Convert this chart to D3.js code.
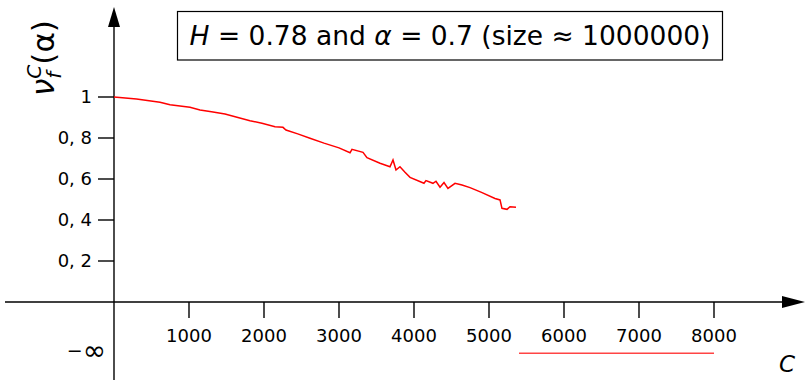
<!DOCTYPE html>
<html>
<head>
<meta charset="utf-8">
<script src="https://cdn.jsdelivr.net/npm/d3@7"></script>
<style>
  body { margin: 0; background: #fff; }
  text { font-family: "DejaVu Sans", sans-serif; }
</style>
</head>
<body>
<div id="chart"></div>
<script>
// values
const cValues = [0, 300, 613, 747, 1013, 1147, 1300, 1480, 1640, 1813, 1973, 2147, 2253, 2293,
  2450, 2613, 2800, 3000, 3147, 3173, 3320, 3373, 3547, 3680, 3720, 3760, 3813, 3880, 3947,
  4133, 4160, 4253, 4293, 4347, 4400, 4453, 4547, 4640, 4747, 4900, 5080, 5147, 5173, 5240, 5280, 5360];
const nuValues = [1.0, 0.99, 0.974, 0.962, 0.95, 0.937, 0.928, 0.917, 0.901, 0.884, 0.872, 0.855, 0.852, 0.839,
  0.82, 0.799, 0.775, 0.752, 0.728, 0.745, 0.73, 0.704, 0.677, 0.66, 0.693, 0.644, 0.66, 0.633, 0.608,
  0.579, 0.592, 0.579, 0.589, 0.56, 0.583, 0.554, 0.579, 0.571, 0.558, 0.535, 0.505, 0.498, 0.457, 0.452, 0.465, 0.462];
// range where the value is -infinity
const negInfC = [5400, 8000];
const xTicks = [1000, 2000, 3000, 4000, 5000, 6000, 7000, 8000];
const yTicks = [0.2, 0.4, 0.6, 0.8, 1];
const title = "(size ≈ 1000000)";

const width = 805, height = 380;
const svg = d3.select("#chart").append("svg")
    .attr("width", width).attr("height", height);

const x = d3.scaleLinear().domain([0, 1000]).range([114, 189]);
const y = d3.scaleLinear().domain([0, 1]).range([302, 97]);
const yNegInf = y(-0.25);

// axes lines
svg.append("line").attr("x1", 5).attr("x2", 785).attr("y1", y(0)).attr("y2", y(0))
    .attr("stroke", "#000").attr("stroke-width", 1.4);
svg.append("line").attr("x1", x(0)).attr("x2", x(0)).attr("y1", height).attr("y2", 25)
    .attr("stroke", "#000").attr("stroke-width", 1.4);
// arrow heads
svg.append("path").attr("d", `M${x(0)},7 L${x(0) - 6},27 L${x(0) + 6},27 Z`).attr("fill", "#000");
svg.append("path").attr("d", `M805,${y(0)} L782,${y(0) - 6} L782,${y(0) + 6} Z`).attr("fill", "#000");

// x ticks
const xt = svg.append("g").selectAll("g").data(xTicks).enter().append("g");
xt.append("line").attr("x1", d => x(d)).attr("x2", d => x(d))
    .attr("y1", y(0)).attr("y2", y(0) + 16).attr("stroke", "#000").attr("stroke-width", 1.4);
xt.append("text").attr("x", d => x(d)).attr("y", y(0) + 40)
    .attr("text-anchor", "middle").attr("font-size", 18).text(d => d);

// y ticks
const yt = svg.append("g").selectAll("g").data(yTicks).enter().append("g");
yt.append("line").attr("x1", x(0) - 16).attr("x2", x(0))
    .attr("y1", d => y(d)).attr("y2", d => y(d)).attr("stroke", "#000").attr("stroke-width", 1.4);
yt.append("text").attr("x", x(0) - 22).attr("y", d => y(d) + 6)
    .attr("text-anchor", "end").attr("font-size", 18)
    .text(d => d === 1 ? "1" : "0, " + Math.round(d * 10));
const ni = svg.append("text").attr("x", x(0) - 8).attr("y", yNegInf + 7)
    .attr("text-anchor", "end").attr("font-size", 19);
ni.append("tspan").attr("dy", -3).text("−");
ni.append("tspan").attr("dy", 3).attr("font-size", 28).text("∞");

// data line
const pts = cValues.map((c, i) => [c, nuValues[i]]);
svg.append("path").datum(pts)
    .attr("fill", "none").attr("stroke", "#f00").attr("stroke-width", 1.5)
    .attr("d", d3.line().x(d => x(d[0])).y(d => y(d[1])));
svg.append("line").attr("x1", x(negInfC[0])).attr("x2", x(negInfC[1]))
    .attr("y1", yNegInf).attr("y2", yNegInf)
    .attr("stroke", "#f44").attr("stroke-width", 1.5);

// title box
svg.append("rect").attr("x", 177.5).attr("y", 11.5).attr("width", 545).attr("height", 48.5)
    .attr("fill", "#fff").attr("stroke", "#000").attr("stroke-width", 1.2);
const tt = svg.append("text").attr("x", 450).attr("y", 45).attr("text-anchor", "middle")
    .attr("font-size", 26.5);
tt.append("tspan").attr("font-style", "italic").text("H");
tt.append("tspan").text(" = 0.78 and ");
tt.append("tspan").attr("font-style", "italic").text("α");
tt.append("tspan").text(" = 0.7 " + title);

// axis labels
const yl = svg.append("text").attr("transform", "translate(54,96) rotate(-90)")
    .attr("font-size", 31);
yl.append("tspan").attr("font-style", "italic").text("ν");
yl.append("tspan").attr("font-style", "italic").attr("font-size", 20).attr("dy", 7).text("f");
yl.append("tspan").attr("font-style", "italic").attr("font-size", 20).attr("dx", -7).attr("dy", -20).text("C");
yl.append("tspan").attr("dy", 13).text("(α)");
svg.append("text").attr("x", 795).attr("y", 372).attr("font-size", 23)
    .attr("text-anchor", "end").attr("font-style", "italic").text("C");
</script>
</body>
</html>
